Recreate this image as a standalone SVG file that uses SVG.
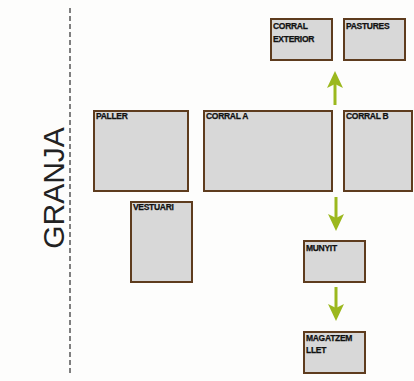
<svg xmlns="http://www.w3.org/2000/svg" width="414" height="381" viewBox="0 0 414 381">
<defs>
<style>
.box{fill:#d8d8d8;stroke:#5e3c1e;stroke-width:2}
.lbl{font-family:"Liberation Sans",Arial,sans-serif;font-weight:bold;font-size:8.5px;fill:#111;letter-spacing:-0.3px;stroke:#111;stroke-width:0.25}
.arr{stroke:#9bb81e;stroke-width:3;fill:none}
.head{fill:#9bb81e}
</style>
</defs>
<rect width="414" height="381" fill="#fdfdfc"/>
<line x1="70" y1="8" x2="70" y2="376" stroke="#555" stroke-width="1.5" stroke-dasharray="5,3"/>
<text x="0" y="0" transform="translate(64,188) rotate(-90)" text-anchor="middle" font-family="'Liberation Sans',Arial,sans-serif" font-size="30" fill="#222">GRANJA</text>
<g id="connectors">
<line class="arr" x1="335" y1="105" x2="335" y2="84"/>
<polygon class="head" points="327,88 335,71 343,88 335,84"/>
<line class="arr" x1="336" y1="197" x2="336" y2="218"/>
<polygon class="head" points="328,214 336,231 344,214 336,218"/>
<line class="arr" x1="336" y1="287" x2="336" y2="308"/>
<polygon class="head" points="328,304 336,321 344,304 336,308"/>
</g>
<g id="corral-exterior"><rect class="box" x="271" y="19" width="61" height="41"/><text class="lbl" x="273" y="29">CORRAL</text><text class="lbl" x="273" y="42">EXTERIOR</text></g>
<g id="pastures"><rect class="box" x="344" y="19" width="61" height="41"/><text class="lbl" x="346" y="29">PASTURES</text></g>
<g id="paller"><rect class="box" x="94" y="111" width="94" height="80"/><text class="lbl" x="96" y="119">PALLER</text></g>
<g id="corral-a"><rect class="box" x="204" y="111" width="128" height="80"/><text class="lbl" x="206" y="119">CORRAL A</text></g>
<g id="corral-b"><rect class="box" x="344" y="111" width="68" height="80"/><text class="lbl" x="346" y="119">CORRAL B</text></g>
<g id="vestuari"><rect class="box" x="131" y="202" width="61" height="80"/><text class="lbl" x="133" y="210">VESTUARI</text></g>
<g id="munyit"><rect class="box" x="304" y="241" width="61" height="41"/><text class="lbl" x="306" y="251">MUNYIT</text></g>
<g id="magatzem-llet"><rect class="box" x="304" y="332" width="61" height="41"/><text class="lbl" x="306" y="341">MAGATZEM</text><text class="lbl" x="306" y="353">LLET</text></g>
</svg>
